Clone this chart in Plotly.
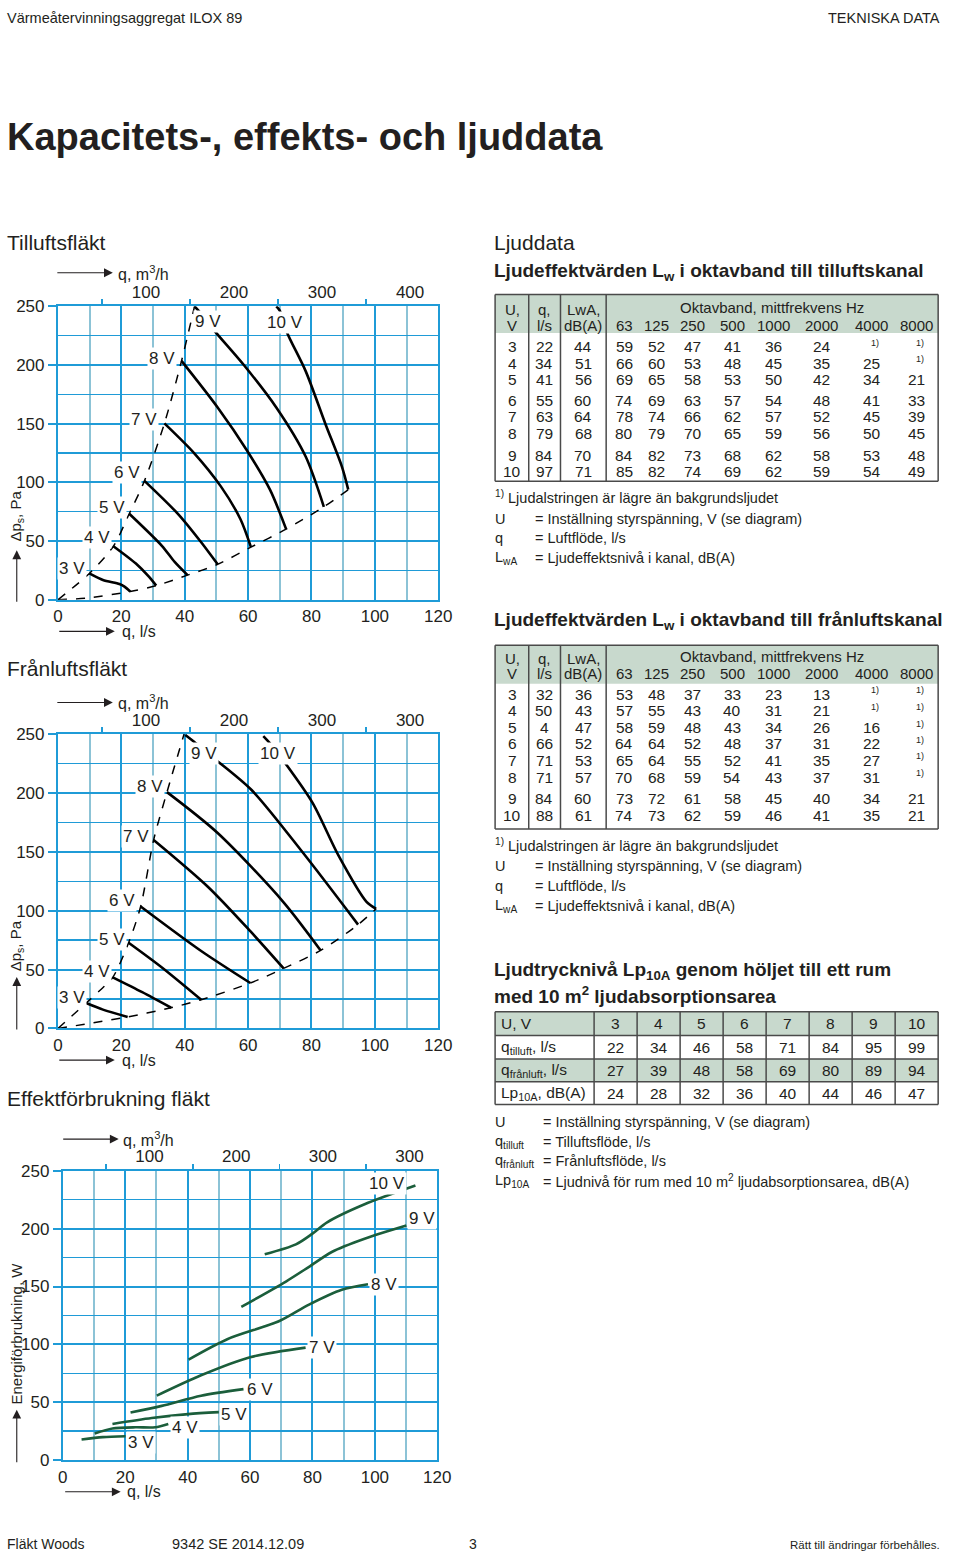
import plotly.graph_objects as go

# ---------------- DATA ----------------
voltages = [3, 4, 5, 6, 7, 8, 9, 10]

# Tilluftsfläkt: q (l/s), dp (Pa) per voltage
till_q = {
    3: [9.9, 14.2, 19.4, 21.0, 22.8],
    4: [17.5, 24.6, 28.7, 31.0],
    5: [22.5, 32.8, 36.9, 40.9],
    6: [27.3, 38.0, 45.2, 50.4],
    7: [33.6, 43.1, 51.4, 57.6, 60.9],
    8: [39.0, 50.4, 59.6, 66.9, 72.0],
    9: [43.1, 45.7, 49.0, 58.6, 68.9, 78.2, 83.9],
    10: [68.9, 70.0, 72.2, 78.2, 84.4, 89.6, 91.6],
}
till_p = {
    3: [22.4, 16.8, 13.4, 11.2, 7.0],
    4: [45.6, 30.8, 19.6, 12.0],
    5: [73.3, 46.0, 32.0, 21.0],
    6: [101.3, 72.8, 49.0, 30.2],
    7: [150.3, 124.6, 96.6, 68.6, 44.8],
    8: [203.5, 163.8, 127.4, 93.8, 60.2],
    9: [250.0, 242.2, 230.4, 200.2, 163.8, 121.8, 79.2],
    10: [250.0, 246.4, 228.2, 194.6, 149.8, 113.4, 93.8],
}
till_left_q = [0, 9.9, 17.5, 22.5, 27.3, 33.6, 39.0, 43.1]
till_left_p = [0, 22.4, 45.6, 73.3, 101.3, 150.3, 203.5, 250]
till_bot_q = [0, 9.0, 22.8, 31.0, 40.9, 50.4, 60.9, 72.0, 83.9, 91.6]
till_bot_p = [0, 1.4, 7.0, 12.0, 21.0, 30.2, 44.8, 60.2, 79.2, 93.8]
till_lbl_q = [4.4, 12.2, 17.1, 21.7, 27.1, 32.8, 47.3, 71.5]
till_lbl_p = [27, 53, 79, 108.6, 153.4, 205.8, 237, 236.5]

# Frånluftsfläkt
fran_q = {
    3: [8.9, 14.2, 22.0],
    4: [17.3, 26.6, 35.7],
    5: [22.3, 32.8, 45.2],
    6: [26.1, 45.2, 60.7],
    7: [30.2, 47.3, 60.7, 71.2],
    8: [34.4, 50.4, 71.0, 82.9],
    9: [40.2, 43.3, 48.8, 61.1, 77.2, 94.7],
    10: [64.8, 67.1, 70.8, 80.3, 88.5, 97.3, 100.4],
}
fran_p = {
    3: [21.6, 16.0, 9.8],
    4: [43.4, 30.8, 17.6],
    5: [72.8, 51.8, 24.4],
    6: [103.6, 65.8, 38.6],
    7: [160.1, 120.4, 82.6, 51.0],
    8: [200.7, 166.0, 107.8, 66.3],
    9: [249.2, 242.7, 230.4, 202.5, 149.6, 88.2],
    10: [248.3, 241.6, 228.7, 191.8, 147.0, 107.8, 101.6],
}
fran_left_q = [0, 8.9, 13.2, 17.3, 22.3, 26.1, 30.2, 34.4, 39.8]
fran_left_p = [0, 21.6, 32.2, 43.4, 72.8, 103.6, 160.1, 200.7, 250]
fran_bot_q = [0, 22.0, 35.7, 45.2, 60.7, 71.2, 82.9, 94.7, 100.4]
fran_bot_p = [0, 9.8, 17.6, 24.4, 38.6, 51.0, 66.3, 88.2, 101.6]
fran_lbl_q = [4.4, 12.2, 17.1, 20.1, 24.6, 29.2, 46.2, 69.5]
fran_lbl_p = [26, 48.4, 75.6, 108.3, 163.2, 205.2, 233.8, 233.2]

# Effektförbrukning
eff_q = {
    3: [6.0, 12.8, 20.1],
    4: [10.2, 15.9, 23.3, 29.6, 33.8],
    5: [15.9, 28.5, 40.1, 50.0],
    6: [21.7, 31.7, 44.3, 57.9],
    7: [30.1, 44.3, 60.0, 77.8],
    8: [40.3, 52.7, 69.4, 78.9, 89.4, 97.8],
    9: [57.2, 71.5, 78.9, 86.2, 96.7, 110.1],
    10: [64.7, 74.7, 79.9, 84.7, 96.7, 113.0],
}
eff_w = {
    3: [17.9, 19.9, 20.7],
    4: [23.0, 27.3, 28.4, 28.4, 31.3],
    5: [31.3, 36.4, 39.8, 41.5],
    6: [41.2, 46.9, 55.7, 61.4],
    7: [55.7, 73.3, 88.9, 97.2],
    8: [86.9, 104.5, 120.2, 134.4, 147.2, 152.0],
    9: [132.4, 154.3, 167.0, 179.8, 191.2, 202.6],
    10: [177.8, 186.4, 195.5, 205.4, 221.0, 237.2],
}
eff_lbl_q = [24.9, 39.0, 55.0, 63.2, 83.1, 103.0, 115.1, 103.8]
eff_lbl_w = [15, 28.4, 39.8, 61.1, 97.4, 151.4, 209, 238.9]

top_tick_vals = [100, 200, 300, 400]
top_tick_text_1 = ["100", "200", "300", "400"]
top_tick_text_2 = ["100", "200", "300", "300"]

# Sound tables
oct_bands = ["63", "125", "250", "500", "1000", "2000", "4000", "8000"]
t1_q = [22, 34, 41, 55, 63, 79, 84, 97]
t1_lwa = [44, 51, 56, 60, 64, 68, 70, 71]
t1_oct = [
    [59, 52, 47, 41, 36, 24, None, None],
    [66, 60, 53, 48, 45, 35, 25, None],
    [69, 65, 58, 53, 50, 42, 34, 21],
    [74, 69, 63, 57, 54, 48, 41, 33],
    [78, 74, 66, 62, 57, 52, 45, 39],
    [80, 79, 70, 65, 59, 56, 50, 45],
    [84, 82, 73, 68, 62, 58, 53, 48],
    [85, 82, 74, 69, 62, 59, 54, 49],
]
t2_q = [32, 50, 4, 66, 71, 71, 84, 88]
t2_lwa = [36, 43, 47, 52, 53, 57, 60, 61]
t2_oct = [
    [53, 48, 37, 33, 23, 13, None, None],
    [57, 55, 43, 40, 31, 21, None, None],
    [58, 59, 48, 43, 34, 26, 16, None],
    [64, 64, 52, 48, 37, 31, 22, None],
    [65, 64, 55, 52, 41, 35, 27, None],
    [70, 68, 59, 54, 43, 37, 31, None],
    [73, 72, 61, 58, 45, 40, 34, 21],
    [74, 73, 62, 59, 46, 41, 35, 21],
]
t3_q_till = [22, 34, 46, 58, 71, 84, 95, 99]
t3_q_fran = [27, 39, 48, 58, 69, 80, 89, 94]
t3_lp = [24, 28, 32, 36, 40, 44, 46, 47]

# ---------------- STYLE / LAYOUT ----------------
W, H = 960, 1566
FONT = "Liberation Sans"
TXT = "#231f20"
BLUE = "#1f9bd7"
BLUE2 = "#8cc3d6"
GREEN = "#1b5e3b"
HDR = "#c8d9cd"
BORDER = "#4a4a4a"


def px(x):
    return min(max(x / W, 0), 1)


def py(y):
    return min(max(1 - y / H, 0), 1)


PLOTS = [((54, 442), (301, 598)), ((54, 442), (734, 1032)), ((59, 441), (1176, 1469))]

fig = go.Figure()
ann = []
shapes = []


def text(x, y, s, size=14, anchor="left", color=TXT, yanchor="middle", **kw):
    d = dict(x=px(x), y=py(y), xref="paper", yref="paper", text=s, showarrow=False,
             xanchor=anchor, yanchor=yanchor, font=dict(size=size, color=color, family=FONT))
    d.update(kw)
    ann.append(d)


def arrow(x0, y0, x1, y1):
    ann.append(dict(x=px(x1), y=py(y1), xref="paper", yref="paper", ax=x0 - x1, ay=y0 - y1,
                    axref="pixel", ayref="pixel", text="", showarrow=True, arrowhead=2,
                    arrowsize=1.6, arrowwidth=1.1, arrowcolor=TXT, standoff=0))


def line(x0, y0, x1, y1, color=BORDER, width=1.5):
    shapes.append(dict(type="line", xref="paper", yref="paper", x0=px(x0), x1=px(x1),
                       y0=py(y0), y1=py(y1), line=dict(color=color, width=width)))


def rect(x0, y0, x1, y1, fill):
    shapes.append(dict(type="rect", xref="paper", yref="paper", x0=px(x0), x1=px(x1),
                       y0=py(y0), y1=py(y1), fillcolor=fill, line=dict(width=0), layer="below"))


tickfont = dict(size=17, color=TXT, family=FONT)

for i, ((xa, xb), (ya, yb)) in enumerate(PLOTS, start=1):
    sfx = "" if i == 1 else str(i)
    fig.layout["xaxis" + sfx] = dict(
        domain=[px(xa), px(xb)], anchor="y" + sfx, range=[0, 120], tickmode="linear", tick0=0, dtick=20,
        showgrid=True, gridcolor=BLUE, gridwidth=2,
        minor=dict(tickmode="linear", tick0=0, dtick=10, showgrid=True, gridcolor=BLUE2, gridwidth=2),
        showline=True, linecolor=BLUE, linewidth=2, mirror=True, ticks="", zeroline=False,
        tickfont=tickfont, fixedrange=True)
    fig.layout["yaxis" + sfx] = dict(
        domain=[py(yb), py(ya)], anchor="x" + sfx, range=[0, 250], tickmode="linear", tick0=0, dtick=50,
        showgrid=True, gridcolor=BLUE, gridwidth=2,
        minor=dict(tickmode="linear", tick0=0, dtick=25, showgrid=True, gridcolor=BLUE, gridwidth=1.5),
        showline=True, linecolor=BLUE, linewidth=2, mirror=True, ticks="outside", ticklen=8,
        tickcolor=BLUE, tickwidth=2, zeroline=False, tickfont=tickfont, fixedrange=True)
    top = str(i + 3)
    fig.layout["xaxis" + top] = dict(
        overlaying="x" + sfx, side="top", anchor="y" + sfx, range=[0, 120 * 3.6],
        tickmode="array", tickvals=top_tick_vals,
        ticktext=top_tick_text_1 if i == 1 else top_tick_text_2, ticks="", showgrid=False,
        minor=dict(tickmode="linear", tick0=50, dtick=100, ticks="outside", ticklen=6,
                   tickcolor=BLUE, tickwidth=1.5, showgrid=False),
        ticklabelstandoff=4,
        showline=False, zeroline=False, tickfont=tickfont, fixedrange=True)
    fig.add_trace(go.Scatter(x=[0], y=[-100], xaxis="x" + top, yaxis="y" + sfx, mode="markers",
                             marker=dict(opacity=0), hoverinfo="skip", showlegend=False))


def curve(i, xs, ys, color="black", width=2.6, dash="solid"):
    sfx = "" if i == 1 else str(i)
    fig.add_trace(go.Scatter(x=xs, y=ys, xaxis="x" + sfx, yaxis="y" + sfx, mode="lines",
                             line=dict(color=color, width=width, dash=dash, shape="spline", smoothing=0.8),
                             hoverinfo="skip", showlegend=False))


def vlabel(i, x, y, s):
    sfx = "" if i == 1 else str(i)
    ann.append(dict(x=x, y=y, xref="x" + sfx, yref="y" + sfx, text=s, showarrow=False,
                    bgcolor="white", borderpad=1, font=dict(size=17, color=TXT, family=FONT)))


# chart 1
curve(1, till_left_q, till_left_p, width=1.5, dash="dash")
curve(1, till_bot_q, till_bot_p, width=1.5, dash="dash")
for v in voltages:
    curve(1, till_q[v], till_p[v])
for k, v in enumerate(voltages):
    vlabel(1, till_lbl_q[k], till_lbl_p[k], f"{v} V")

# chart 2
curve(2, fran_left_q, fran_left_p, width=1.5, dash="dash")
curve(2, fran_bot_q, fran_bot_p, width=1.5, dash="dash")
for v in voltages:
    curve(2, fran_q[v], fran_p[v])
for k, v in enumerate(voltages):
    vlabel(2, fran_lbl_q[k], fran_lbl_p[k], f"{v} V")

# chart 3
for v in voltages:
    curve(3, eff_q[v], eff_w[v], color=GREEN, width=2.6)
for k, v in enumerate(voltages):
    vlabel(3, eff_lbl_q[k], eff_lbl_w[k], f"{v} V")

# chart axis titles and arrows
for (top_y, bot_y, x0, tx) in [(267, 630, 53, 113), (702, 1064, 53, 113), (1144, 1501, 59, 118)]:
    arrow(x0, top_y, x0 + 57, top_y)
    text(tx, top_y, "q, m<sup>3</sup>/h", size=16)
    arrow(x0 + 2, bot_y, x0 + 59, bot_y)
    text(tx + 4, bot_y, "q, l/s", size=16)

text(12, 513, "Δp<sub>s</sub>, Pa", size=15, anchor="center", textangle=-90)
arrow(12, 601, 12, 548)
text(12, 948, "Δp<sub>s</sub>, Pa", size=15, anchor="center", textangle=-90)
arrow(12, 1034, 12, 980)
text(12, 1341, "Energiförbrukning, W", size=15, anchor="center", textangle=-90)
arrow(12, 1472, 12, 1418)

# headings
text(0, 9, "Värmeåtervinningsaggregat ILOX 89", size=14.5)
text(956, 9, "TEKNISKA DATA", size=14.5, anchor="right")
text(0, 130, "<b>Kapacitets-, effekts- och ljuddata</b>", size=38)
text(0, 236, "Tilluftsfläkt", size=21)
text(0, 668, "Frånluftsfläkt", size=21)
text(0, 1103, "Effektförbrukning fläkt", size=21)
text(497, 236, "Ljuddata", size=21)
text(497, 266, "<b>Ljudeffektvärden L<sub>w</sub> i oktavband till tilluftskanal</b>", size=19)
text(497, 620, "<b>Ljudeffektvärden L<sub>w</sub> i oktavband till frånluftskanal</b>", size=19)
text(497, 974, "<b>Ljudtrycknivå Lp<sub>10A</sub> genom höljet till ett rum</b>", size=19)
text(497, 998, "<b>med 10 m<sup>2</sup> ljudabsorptionsarea</b>", size=19)

# footer
text(0, 1554, "Fläkt Woods", size=14)
text(168, 1554, "9342 SE 2014.12.09", size=14.5)
text(477, 1554, "3", size=14, anchor="center")
text(956, 1555, "Rätt till ändringar förbehålles.", size=11.5, anchor="right")

# ---------------- octave tables ----------------
COLX = [517.7, 550, 590]
OCTX = [631.7, 665, 701.7, 741.7, 784.3, 833.3, 884.3, 930]


def oct_table(top, hdr_bot, bot, hy1, hy2, row_ys, q, lwa, octs):
    rect(500, top, 952, hdr_bot, HDR)
    line(500, top, 952, top)
    line(500, bot, 952, bot)
    line(500, top, 500, bot)
    line(952, top, 952, bot)
    for xv in (534.3, 566.7, 613.3):
        line(xv, top, xv, bot)
    text(COLX[0], hy1, "U,", size=15, anchor="center")
    text(COLX[0], hy2, "V", size=15, anchor="center")
    text(COLX[1], hy1, "q,", size=15, anchor="center")
    text(COLX[1], hy2, "l/s", size=15, anchor="center")
    text(COLX[2], hy1, "LwA,", size=15, anchor="center")
    text(COLX[2], hy2, "dB(A)", size=15, anchor="center")
    text(782, hy1 - 2, "Oktavband, mittfrekvens Hz", size=15, anchor="center")
    for xo, b in zip(OCTX, oct_bands):
        text(xo, hy2, b, size=15, anchor="center")
    for r, yv in enumerate(row_ys):
        text(COLX[0], yv, str(voltages[r]), size=15.5, anchor="center")
        text(COLX[1], yv, str(q[r]), size=15.5, anchor="center")
        text(COLX[2], yv, str(lwa[r]), size=15.5, anchor="center")
        for c, xo in enumerate(OCTX):
            val = octs[r][c]
            if val is None:
                text(xo + 3, yv - 4, "1)", size=9, anchor="center")
            else:
                text(xo, yv, str(val), size=15.5, anchor="center")


def legend_block(y0):
    text(498, y0, "<sup>1)</sup> Ljudalstringen är lägre än bakgrundsljudet", size=14.5)
    text(498, y0 + 22, "U", size=14.5)
    text(539, y0 + 22, "= Inställning styrspänning, V (se diagram)", size=14.5)
    text(498, y0 + 42, "q", size=14.5)
    text(539, y0 + 42, "= Luftflöde, l/s", size=14.5)
    text(498, y0 + 62, "L<sub>wA</sub>", size=14.5)
    text(539, y0 + 62, "= Ljudeffektsnivå i kanal, dB(A)", size=14.5)


oct_table(289, 328, 478, 304, 320, [342, 358.5, 375, 396.5, 413, 430, 451.5, 468], t1_q, t1_lwa, t1_oct)
legend_block(494)
oct_table(644, 683, 830, 657, 672.5, [693.5, 710.5, 727.5, 744, 760.5, 777.5, 799.5, 816], t2_q, t2_lwa, t2_oct)
legend_block(846)

# ---------------- Lp10A table ----------------
T3_ROWS = [1015, 1039, 1063, 1086, 1109]
T3_COL0 = 601
T3_CW = (952 - 601) / 8
rect(500, T3_ROWS[0], 952, T3_ROWS[1], HDR)
rect(500, T3_ROWS[2], 952, T3_ROWS[3], HDR)
for yv in T3_ROWS:
    line(500, yv, 952, yv)
line(500, T3_ROWS[0], 500, T3_ROWS[-1])
for k in range(9):
    xv = T3_COL0 + k * T3_CW
    line(xv, T3_ROWS[0], xv, T3_ROWS[-1])
row_labels = ["U, V", "q<sub>tilluft</sub>, l/s", "q<sub>frånluft</sub>, l/s", "Lp<sub>10A</sub>, dB(A)"]
row_vals = [voltages, t3_q_till, t3_q_fran, t3_lp]
for r in range(4):
    yc = (T3_ROWS[r] + T3_ROWS[r + 1]) / 2
    text(504, yc, row_labels[r], size=15.5)
    for c in range(8):
        text(T3_COL0 + (c + 0.5) * T3_CW, yc, str(row_vals[r][c]), size=15.5, anchor="center")

text(498, 1127, "U", size=14.5)
text(547, 1127, "= Inställning styrspänning, V (se diagram)", size=14.5)
text(498, 1147, "q<sub>tilluft</sub>", size=14.5)
text(547, 1147, "= Tilluftsflöde, l/s", size=14.5)
text(498, 1166, "q<sub>frånluft</sub>", size=14.5)
text(547, 1166, "= Frånluftsflöde, l/s", size=14.5)
text(498, 1186, "Lp<sub>10A</sub>", size=14.5)
text(547, 1186, "= Ljudnivå för rum med 10 m<sup>2</sup> ljudabsorptionsarea, dB(A)", size=14.5)

fig.update_layout(width=W, height=H, margin=dict(l=0, r=0, t=0, b=0), autosize=False,
                  paper_bgcolor="white", plot_bgcolor="white", showlegend=False,
                  font=dict(family=FONT, color=TXT), annotations=ann, shapes=shapes)

fig.write_html("out.html", config={"displayModeBar": False, "staticPlot": True},
               post_script="document.body.style.margin='0';document.body.style.overflow='hidden';")
